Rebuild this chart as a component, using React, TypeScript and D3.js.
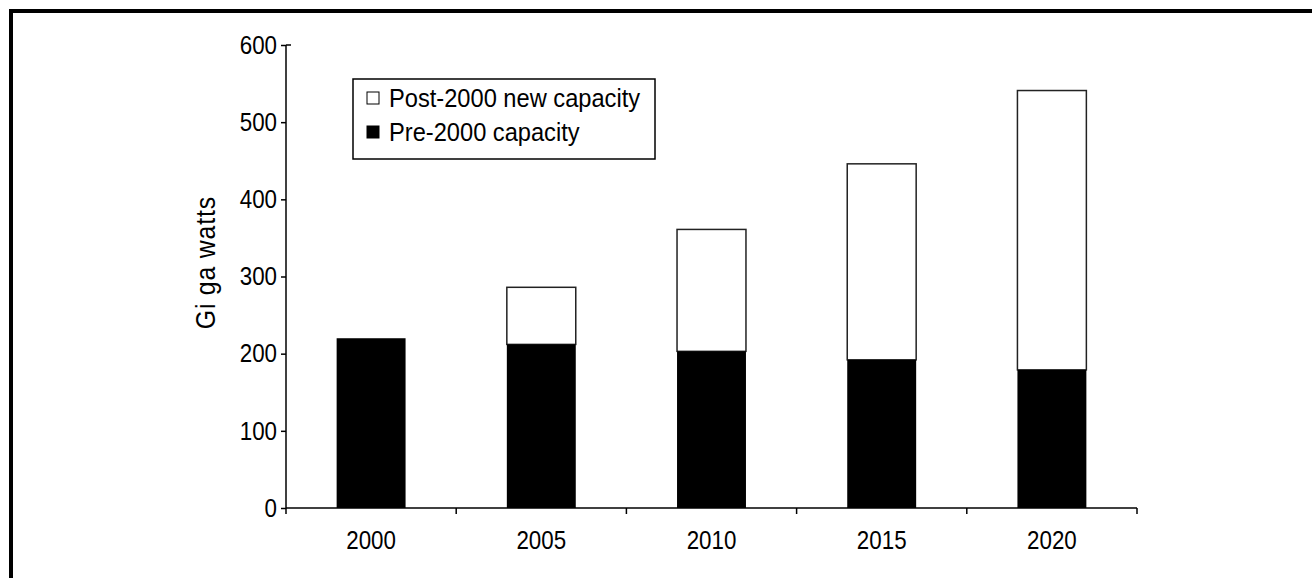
import React, { useEffect, useRef } from 'react';
import * as d3 from 'd3';

const years = ['2000', '2005', '2010', '2015', '2020'];
const preCapacity = [220, 212, 203, 192, 179];
const postCapacity = [0, 74, 158, 254, 362];
const yTicks = [0, 100, 200, 300, 400, 500, 600];
const legendLabels = ['Post-2000 new capacity', 'Pre-2000 capacity'];
const yLabelParts = ['Gi', 'ga', 'watts'];

const FONT = "'Liberation Sans', Arial, sans-serif";
const SX = 0.86; // horizontal squeeze to mimic a narrow face

const App = () => {
  const ref = useRef<SVGSVGElement>(null);

  useEffect(() => {
    if (!ref.current) return;
    const svg = d3.select(ref.current);
    svg.selectAll('*').remove();

    // page frame: top and left rules
    svg.append('rect').attr('x', 9).attr('y', 9).attr('width', 1303).attr('height', 4).attr('fill', '#000');
    svg.append('rect').attr('x', 9).attr('y', 9).attr('width', 4).attr('height', 569).attr('fill', '#000');

    const x0 = 286, x1 = 1137, yTop = 45, yBottom = 508;
    const x = d3.scaleBand().domain(years).range([x0, x1]).paddingInner(0.595).paddingOuter(0.2975);
    const y = d3.scaleLinear().domain([0, 600]).range([yBottom, yTop]);

    const data = years.map((yr, i) => ({ yr, pre: preCapacity[i], post: postCapacity[i] }));

    const g = svg.append('g');

    // bars
    g.selectAll('.post')
      .data(data.filter(d => d.post > 0))
      .enter().append('rect')
      .attr('x', d => x(d.yr)!)
      .attr('width', x.bandwidth())
      .attr('y', d => y(d.pre + d.post))
      .attr('height', d => y(d.pre) - y(d.pre + d.post))
      .attr('fill', '#fff')
      .attr('stroke', '#222')
      .attr('stroke-width', 1.5);

    g.selectAll('.pre')
      .data(data)
      .enter().append('rect')
      .attr('x', d => x(d.yr)!)
      .attr('width', x.bandwidth())
      .attr('y', d => y(d.pre))
      .attr('height', d => y(0) - y(d.pre))
      .attr('fill', '#000');

    // y axis
    const yAxis = g.append('g').attr('transform', `translate(${x0},0)`)
      .call(d3.axisLeft(y).tickValues(yTicks).tickSize(5).tickPadding(4));
    yAxis.select('.domain').attr('stroke', '#000').attr('stroke-width', 1.5).attr('d', `M0,${yTop}V${yBottom}`);
    yAxis.selectAll('line').attr('stroke', '#000').attr('stroke-width', 1.5);
    yAxis.selectAll('text')
      .attr('font-family', FONT).attr('font-size', 26).attr('fill', '#000')
      .attr('transform', `scale(${SX},1)`).attr('x', -9 / SX);
    yAxis.append('line').attr('x1', 0).attr('x2', 5).attr('y1', y(600)).attr('y2', y(600)).attr('stroke', '#000').attr('stroke-width', 1.5);

    // x axis with ticks at band edges
    const edges = years.map(yr => x(yr)! - (x.step() - x.bandwidth()) / 2).concat([x1]);
    const xg = g.append('g');
    xg.append('line').attr('x1', x0).attr('x2', x1).attr('y1', yBottom).attr('y2', yBottom).attr('stroke', '#000').attr('stroke-width', 1.5);
    xg.selectAll('.tk').data(edges).enter().append('line')
      .attr('x1', d => d).attr('x2', d => d).attr('y1', yBottom).attr('y2', yBottom + 6)
      .attr('stroke', '#000').attr('stroke-width', 1.5);
    xg.selectAll('.lbl').data(years).enter().append('text')
      .attr('transform', d => `translate(${x(d)! + x.bandwidth() / 2},549) scale(${SX},1)`)
      .attr('text-anchor', 'middle')
      .attr('font-family', FONT).attr('font-size', 26)
      .text(d => d);

    // y label ("Gi ga watts" with small gaps as in the source)
    const yl = svg.append('text')
      .attr('transform', `translate(215,${(yTop + yBottom) / 2 - 14}) rotate(-90) scale(0.92,1)`)
      .attr('text-anchor', 'middle')
      .attr('font-family', FONT).attr('font-size', 27).attr('letter-spacing', 1);
    yLabelParts.forEach((p, i) => {
      yl.append('tspan').attr('dx', i === 0 ? 0 : 8).text(p);
    });

    // legend
    const lg = svg.append('g');
    lg.append('rect').attr('x', 353).attr('y', 79).attr('width', 302).attr('height', 80)
      .attr('fill', '#fff').attr('stroke', '#000').attr('stroke-width', 1.5);
    legendLabels.forEach((lab, i) => {
      const cy = 98 + i * 34;
      lg.append('rect').attr('x', 367).attr('y', cy - 6).attr('width', 12).attr('height', 12)
        .attr('fill', i === 0 ? '#fff' : '#000').attr('stroke', '#000').attr('stroke-width', 1);
      lg.append('text').attr('transform', `translate(389,${cy + 9}) scale(0.91,1)`)
        .attr('font-family', FONT).attr('font-size', 26)
        .text(lab);
    });
  }, []);

  return (
    <svg ref={ref} width={1312} height={578}
      style={{ position: 'absolute', left: 0, top: 0, background: '#fff' }} />
  );
};

export default App;
